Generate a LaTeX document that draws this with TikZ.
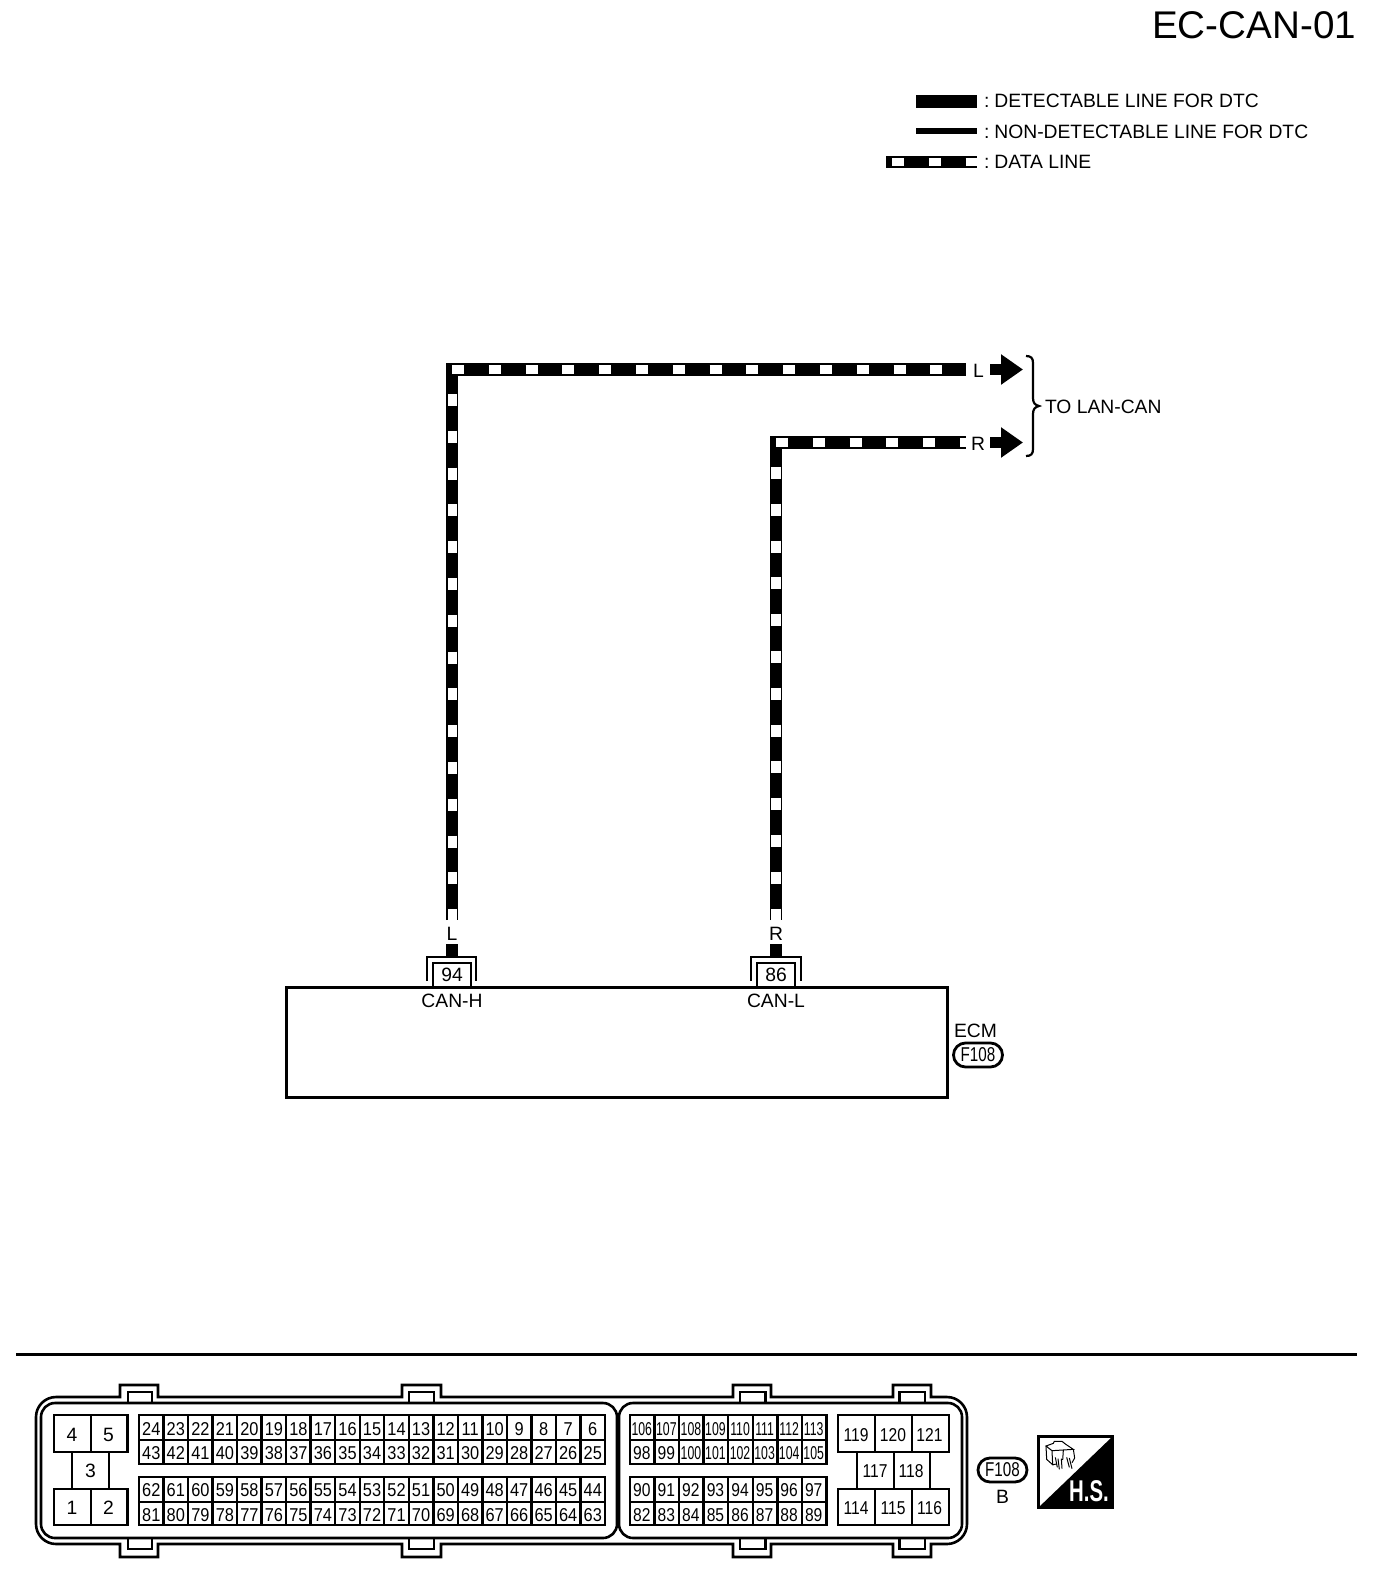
\documentclass[tikz,border=0pt]{standalone}
\usepackage{fontspec}
\setmainfont{Liberation Sans}
\newfontfamily\pinfont[FakeStretch=0.88]{Liberation Sans}
\newfontfamily\blockfont[FakeStretch=0.84]{Liberation Sans}
\newfontfamily\tinyfont[FakeStretch=0.66]{Liberation Sans}
\newfontfamily\ovalfont[FakeStretch=0.76]{Liberation Sans}
\newfontfamily\hsfont[FakeStretch=0.68]{Liberation Sans}
\usetikzlibrary{arrows.meta,shapes.misc}
\tikzset{
  lbl/.style={inner sep=0pt,outer sep=0pt,anchor=base,font=\fontsize{9.65}{11}\selectfont},
  lblw/.style={lbl,anchor=base west},
  pinno/.style={lbl,font=\fontsize{9.3}{10}\selectfont\pinfont},
  blockno/.style={lbl,font=\fontsize{9.3}{10}\selectfont\blockfont},
  tinyno/.style={lbl,font=\fontsize{9.3}{10}\selectfont\tinyfont},
  wireblack/.style={line width=6.25pt,black,line cap=butt,line join=miter},
  wirewhite/.style={line width=4.5pt,white,dash pattern=on 6pt off 12.4pt},
  sigarrow/.style={line width=5.5pt,-{Triangle[length=11pt,width=14.5pt]}},
  grid/.style={line width=1.4pt,black},
  gridlite/.style={line width=1.2pt,black},
  shell/.style={line width=1.3pt,black},
  pinbox/.style={draw,line width=1pt,minimum width=19pt,minimum height=12pt,inner sep=0pt,outer sep=0pt,font=\fontsize{9.65}{11}\selectfont},
  pinhood/.style={draw,line width=1.1pt},
  oval/.style={draw,rounded rectangle,line width=1.4pt,minimum width=24.5pt,minimum height=12pt,inner sep=0pt,font=\fontsize{10}{11}\selectfont\ovalfont},
  ecmbox/.style={draw,line width=1.5pt,minimum width=330.5pt,minimum height=55pt,inner sep=0pt},
}
\begin{document}
\begin{tikzpicture}[x=0.5pt,y=-0.5pt]
\useasboundingbox (0,0) rectangle (1392,1596);
% title
\node[lbl,anchor=base east,font=\fontsize{19.3}{21}\selectfont] (title) at (1356,38) {EC-CAN-01};
% legend
\coordinate (la) at (916,101); \coordinate (lb) at (977,101);
\draw[line width=6.5pt] (la) -- (lb);
\coordinate (ma) at (916,131); \coordinate (mb) at (977,131);
\draw[line width=3pt] (ma) -- (mb);
\coordinate (da) at (886,162); \coordinate (db) at (977,162); \coordinate (dc) at (892,162);
\draw[line width=6pt] (da) -- (db);
\draw[line width=4pt,white,dash pattern=on 6pt off 12.4pt] (dc) -- (db);
\node[lblw] (t1) at (984,107.5) {:\kern2.5pt DETECTABLE LINE FOR DTC};
\node[lblw] (t2) at (984,138.5) {:\kern2.5pt NON-DETECTABLE LINE FOR DTC};
\node[lblw] (t3) at (984,168.5) {:\kern2.5pt DATA LINE};
% ECM
\node[ecmbox] (ecm) at (616.5,1042) {};
\node[lblw] (ecmname) at (954,1037) {ECM};
\node[oval] (f108a) at (978,1055) {F108};
% pins
\node[pinbox] (pin94) at (452,975) {\raisebox{-1pt}{94}};
\node[pinbox] (pin86) at (776,975) {\raisebox{-1pt}{86}};
\draw[pinhood] (427,981) |- (476,957) -- (476,981);
\draw[pinhood] (751,981) |- (801,957) -- (801,981);
\node[lbl] (canh) at (452,1007) {CAN-H};
\node[lbl] (canl) at (776,1007) {CAN-L};
\node[lbl] (wl) at (452,940) {L};
\node[lbl] (wr) at (776,940) {R};
% wires
\coordinate (lbot) at (452.2,920); \coordinate (rbot) at (776,920);
\coordinate (lcorner) at (452.2,369.5); \coordinate (rcorner) at (776,442.5);
\coordinate (lend) at (966,369.5); \coordinate (rend) at (966,442.5);
\draw[wireblack] (lbot) -- (lcorner) -- (lend);
\draw[wireblack] (rbot) -- (rcorner) -- (rend);
\draw[wirewhite] (452,369.5) -- (lend);
\draw[wirewhite,line width=4.6pt] (452.2,394) -- (lbot);
\draw[wirewhite] (776,442.5) -- (rend);
\draw[wirewhite,line width=4.6pt] (776,467) -- (rbot);
\coordinate (ls) at (452,944); \coordinate (rs) at (776,944);
\draw[line width=6pt] (ls) -- (pin94.north |- 0,956);
\draw[line width=6pt] (rs) -- (pin86.north |- 0,956);
% arrows
\node[lbl] (al) at (978.5,377) {L};
\node[lbl] (ar) at (978,450) {R};
\coordinate (als) at (990,369.5); \coordinate (ale) at (1023,369.5);
\coordinate (ars) at (990,442.5); \coordinate (are) at (1023,442.5);
\draw[sigarrow] (als) -- (ale);
\draw[sigarrow] (ars) -- (are);
% brace
\draw[line width=1.1pt] (1026,356) .. controls (1031,356) and (1033,358) .. (1033,363)
  -- (1033,398) .. controls (1033,403) and (1035,405) .. (1039,406)
  .. controls (1035,407) and (1033,409) .. (1033,414)
  -- (1033,449) .. controls (1033,454) and (1031,456) .. (1026,456);
\node[lblw] (tolan) at (1045,413) {TO LAN-CAN};
% rule
\coordinate (ra) at (16,1354); \coordinate (rb) at (1357,1354);
\draw[line width=1.5pt] (ra) -- (rb);
% connector shell
\draw[shell] (36,1417) .. controls (36,1406) and (45,1397) .. (56,1397)
  -- (120,1397) -- (120,1385) -- (158,1385) -- (158,1397)
  -- (402,1397) -- (402,1385) -- (441,1385) -- (441,1397)
  -- (733,1397) -- (733,1385) -- (771,1385) -- (771,1397)
  -- (893,1397) -- (893,1385) -- (931,1385) -- (931,1397)
  -- (947,1397) .. controls (958,1397) and (967,1406) .. (967,1417)
  -- (967,1524) .. controls (967,1535) and (958,1544) .. (947,1544)
  -- (931,1544) -- (931,1557) -- (893,1557) -- (893,1544)
  -- (771,1544) -- (771,1557) -- (733,1557) -- (733,1544)
  -- (441,1544) -- (441,1557) -- (402,1557) -- (402,1544)
  -- (158,1544) -- (158,1557) -- (120,1557) -- (120,1544)
  -- (56,1544) .. controls (45,1544) and (36,1535) .. (36,1524) -- cycle;
\draw[shell,rounded corners=7pt] (41,1403) rectangle (617,1538);
\draw[shell,rounded corners=7pt] (619,1403) rectangle (962,1538);
\foreach \a/\b in {128/152,409/434,740/765.5,899.5/925}{
  \draw[shell] (\a,1403) rectangle (\b,1392);
  \draw[shell] (\a,1538) rectangle (\b,1549);
}
% left blocks
\draw[grid] (54,1415) rectangle (127.5,1452);
\draw[grid] (91,1415) -- (91,1452);
\draw[grid] (54,1489) rectangle (127.5,1525);
\draw[grid] (91,1489) -- (91,1525);
\draw[grid] (72,1452) -- (72,1489);
\draw[grid] (109,1452) -- (109,1489);
\foreach \n/\x/\y in {4/72/1441,5/108.5/1441,3/90.5/1477,1/72/1514,2/108.5/1514}
  \node[lbl] (b\n) at (\x,\y) {\n};
% 1-81 grid
\draw[grid] (139,1415) rectangle (605,1464);
\draw[grid] (139,1477) rectangle (605,1525);
\draw[gridlite] (139,1440) -- (605,1440);
\draw[gridlite] (139,1502) -- (605,1502);
\foreach \i in {1,...,18}{
  \draw[gridlite] ({139+\i*24.526},1415) -- ({139+\i*24.526},1464);
  \draw[gridlite] ({139+\i*24.526},1477) -- ({139+\i*24.526},1525);
}
\foreach \n [count=\i from 0] in {24,23,...,6}
  \node[pinno] (c\n) at ({151.3+\i*24.526},1435.5) {\n};
\foreach \n [count=\i from 0] in {43,42,...,25}
  \node[pinno] (c\n) at ({151.3+\i*24.526},1459.5) {\n};
\foreach \n [count=\i from 0] in {62,61,...,44}
  \node[pinno] (c\n) at ({151.3+\i*24.526},1496) {\n};
\foreach \n [count=\i from 0] in {81,80,...,63}
  \node[pinno] (c\n) at ({151.3+\i*24.526},1521.5) {\n};
% 82-113 grid
\draw[grid] (630,1415) rectangle (826.5,1464);
\draw[grid] (630,1477) rectangle (826.5,1525);
\draw[gridlite] (630,1440) -- (826.5,1440);
\draw[gridlite] (630,1502) -- (826.5,1502);
\foreach \i in {1,...,7}{
  \draw[gridlite] ({630+\i*24.56},1415) -- ({630+\i*24.56},1464);
  \draw[gridlite] ({630+\i*24.56},1477) -- ({630+\i*24.56},1525);
}
\foreach \n [count=\i from 0] in {106,107,...,113}
  \node[tinyno] (c\n) at ({641.8+\i*24.56},1435.5) {\n};
\foreach \n [count=\i from 0] in {98,99,...,105}{
  \ifnum\n<100 \node[blockno] (c\n) at ({641.8+\i*24.56},1459.5) {\n};
  \else \node[tinyno] (c\n) at ({641.8+\i*24.56},1459.5) {\n};\fi
}
\foreach \n [count=\i from 0] in {90,91,...,97}
  \node[blockno] (c\n) at ({641.8+\i*24.56},1496) {\n};
\foreach \n [count=\i from 0] in {82,83,...,89}
  \node[blockno] (c\n) at ({641.8+\i*24.56},1521.5) {\n};
% right blocks
\draw[grid] (838,1415) rectangle (949,1452);
\draw[grid] (875,1415) -- (875,1452);
\draw[grid] (912,1415) -- (912,1452);
\draw[grid] (838,1489) rectangle (949,1525);
\draw[grid] (875,1489) -- (875,1525);
\draw[grid] (912,1489) -- (912,1525);
\draw[grid] (857,1452) -- (857,1489);
\draw[gridlite] (894,1452) -- (894,1489);
\draw[grid] (930,1452) -- (930,1489);
\foreach \n/\x/\y in {119/856/1441,120/893/1441,121/929.5/1441,117/875/1477,118/911/1477,114/856/1514,115/893/1514,116/929.5/1514}
  \node[blockno] (b\n) at (\x,\y) {\n};
\node[oval] (f108b) at (1002.5,1470) {F108};
\node[lbl] (bside) at (1002.5,1503) {B};
% H.S. symbol
\draw[line width=1.25pt,fill=white] (1038.5,1436.5) rectangle (1112.5,1507.5);
\fill (1112.5,1436.5) -- (1112.5,1507.5) -- (1038.5,1507.5) -- cycle;
\node[lbl,anchor=base,text=white,font=\fontsize{15}{16}\selectfont\hsfont\bfseries] (hs) at (1089,1501) {H.S.};
\begin{scope}[shift={(1036,1430)},x=0.1667pt,y=-0.1667pt,line width=0.5pt]
  \draw (30,48) -- (52,40) -- (55,34) -- (78,34) -- (88,42) -- (112,58) -- (48,62) -- cycle;
  \draw (30,48) -- (32,88) -- (50,104) -- (48,62);
  \draw (112,58) -- (116,84) -- (108,98);
  \draw (50,104) -- (62,102);
  \draw (82,60) -- (80,90);
  \draw (58,82) -- (64,112) (66,86) -- (70,118) (76,86) -- (78,116) (92,82) -- (100,112) (100,84) -- (108,116);
\end{scope}
\end{tikzpicture}
\end{document}
